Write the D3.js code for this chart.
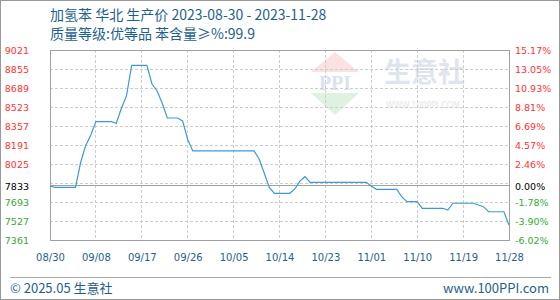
<!DOCTYPE html>
<html>
<head>
<meta charset="utf-8">
<script src="https://cdn.jsdelivr.net/npm/d3@7"></script>
<style>
body { margin: 0; background: #fff; }
svg { display: block; }
</style>
</head>
<body>
<script>
// Chart data
const titleLine1 = '加氢苯 华北 生产价 2023-08-30 - 2023-11-28';
const titleLine2 = '质量等级:优等品 苯含量≥%:99.9';
const startDate = new Date(2023, 7, 30);
const basePrice = 7833;

// daily price, 08/30 .. 11/28
const prices = [
    7833, 7821, 7821, 7821, 7821, 7821, 8038, 8187, 8278, 8395,
    8395, 8395, 8395, 8381, 8512, 8620, 8887, 8887, 8887, 8887,
    8724, 8663, 8558, 8427, 8427, 8427, 8401, 8239, 8139, 8139,
    8139, 8139, 8139, 8139, 8139, 8139, 8139, 8139, 8139, 8139,
    8139, 8069, 7946, 7820, 7769, 7769, 7769, 7769, 7807, 7876,
    7914, 7865, 7865, 7865, 7865, 7865, 7865, 7865, 7865, 7865,
    7865, 7865, 7865, 7833, 7804, 7804, 7804, 7804, 7804, 7737,
    7696, 7696, 7696, 7638, 7638, 7638, 7638, 7638, 7623, 7682,
    7682, 7682, 7682, 7682, 7667, 7652, 7608, 7608, 7608, 7608,
    7492
];

const xTickLabels = ['08/30', '09/08', '09/17', '09/26', '10/05', '10/14', '10/23', '11/01', '11/10', '11/19', '11/28'];
const gridValues = [9021, 8855, 8689, 8523, 8357, 8191, 8025, 7859, 7693, 7527, 7361];
const leftTickValues = [9021, 8855, 8689, 8523, 8357, 8191, 8025, 7833, 7693, 7527, 7361];
const rightTickLabels = ['15.17%', '13.05%', '10.93%', '8.81%', '6.69%', '4.57%', '2.46%', '0.00%', '-1.78%', '-3.90%', '-6.02%'];

const width = 560, height = 300;
const plot = { left: 50, right: 509, top: 50, bottom: 240 };

const labelColor = '#1d5f8f';
const upColor = '#ff3333';
const downColor = '#33aa33';

let svg = d3.select('body').append('svg')
    .attr('width', width)
    .attr('height', height);

// outer frame
svg.append('rect')
    .attr('x', 0.5).attr('y', 0.5)
    .attr('width', width - 1).attr('height', height - 1)
    .attr('fill', '#fff')
    .attr('stroke', '#999');

// scales
let dates = prices.map((p, i) => d3.timeDay.offset(startDate, i));
let x = d3.scaleTime()
    .domain([startDate, dates[dates.length - 1]])
    .range([plot.left, plot.right]);
let y = d3.scaleLinear()
    .domain([7361, 9021])
    .range([plot.bottom, plot.top]);
let xLabel = d3.scalePoint()
    .domain(xTickLabels)
    .range([plot.left, plot.right]);

// title
svg.append('text')
    .attr('x', 50).attr('y', 19.5)
    .attr('fill', labelColor)
    .style('font-family', '"Noto Sans CJK SC", sans-serif')
    .style('font-size', '14px')
    .text(titleLine1);
svg.append('text')
    .attr('x', 50).attr('y', 38.5)
    .attr('fill', labelColor)
    .style('font-family', '"Noto Sans CJK SC", sans-serif')
    .style('font-size', '14px')
    .text(titleLine2);

// watermark
let wm = svg.append('g').attr('class', 'watermark');
wm.append('path')
    .attr('d', 'M335,52 L359,72 L311,72 Z')
    .attr('fill', '#fbe1e1');
wm.append('path')
    .attr('d', 'M311,93 L359,93 L335,115 Z')
    .attr('fill', '#dff1df');
wm.append('text')
    .attr('x', 335).attr('y', 90)
    .attr('text-anchor', 'middle')
    .attr('fill', '#dbe3ef')
    .style('font-family', '"Liberation Serif", serif')
    .style('font-size', '20px')
    .style('font-weight', 'bold')
    .text('PPI');
wm.append('text')
    .attr('x', 384).attr('y', 82)
    .attr('fill', '#dfe5ef')
    .style('font-family', '"Noto Sans CJK SC", sans-serif')
    .style('font-size', '27px')
    .style('font-weight', 'bold')
    .text('生意社');
wm.append('text')
    .attr('x', 386).attr('y', 108)
    .attr('fill', '#e6e6e6')
    .style('font-family', '"DejaVu Sans", sans-serif')
    .style('font-size', '8px')
    .text('WWW.100PPI.COM');

// grid
let grid = svg.append('g').attr('shape-rendering', 'crispEdges');
grid.selectAll('line.h')
    .data(gridValues)
    .enter().append('line')
    .attr('class', 'h')
    .attr('x1', plot.left).attr('x2', plot.right)
    .attr('y1', d => y(d)).attr('y2', d => y(d))
    .attr('stroke', '#cccccc')
    .attr('stroke-dasharray', '3,2');
grid.selectAll('line.v')
    .data(xTickLabels)
    .enter().append('line')
    .attr('class', 'v')
    .attr('x1', d => xLabel(d)).attr('x2', d => xLabel(d))
    .attr('y1', plot.top).attr('y2', plot.bottom)
    .attr('stroke', '#cccccc')
    .attr('stroke-dasharray', '3,2');

// base line
grid.append('line')
    .attr('x1', plot.left).attr('x2', plot.right)
    .attr('y1', y(basePrice)).attr('y2', y(basePrice))
    .attr('stroke', '#a0a0a0');

// plot frame
grid.append('rect')
    .attr('x', plot.left).attr('y', plot.top)
    .attr('width', plot.right - plot.left)
    .attr('height', plot.bottom - plot.top)
    .attr('fill', 'none')
    .attr('stroke', '#a0a0a0');

// price line
let line = d3.line()
    .x((d, i) => x(dates[i]))
    .y(d => y(d));
svg.append('path')
    .datum(prices)
    .attr('d', line)
    .attr('fill', 'none')
    .attr('stroke', '#3a9ad9')
    .attr('stroke-width', 1.2);

// tick colors
const tickColor = (v) => v > basePrice ? upColor : (v < basePrice ? downColor : '#000');

// left axis
let yAxisLeft = svg.append('g')
    .attr('transform', `translate(29, 0)`)
    .call(d3.axisLeft(y).tickValues(leftTickValues).tickSize(0).tickPadding(0).tickFormat(d3.format('d')));
yAxisLeft.select('.domain').remove();
yAxisLeft.selectAll('text')
    .attr('fill', d => tickColor(d))
    .style('font-family', '"DejaVu Sans", sans-serif')
    .style('font-size', '9.5px');

// right axis
let yAxisRight = svg.append('g')
    .attr('transform', `translate(515, 0)`)
    .call(d3.axisRight(y).tickValues(leftTickValues).tickSize(0).tickPadding(0)
        .tickFormat((d, i) => rightTickLabels[i]));
yAxisRight.select('.domain').remove();
yAxisRight.selectAll('text')
    .attr('fill', d => tickColor(d))
    .style('font-family', '"DejaVu Sans", sans-serif')
    .style('font-size', '9.5px');

// x axis
let xAxis = svg.append('g')
    .attr('transform', `translate(0, 254)`)
    .call(d3.axisBottom(xLabel).tickSize(0).tickPadding(0));
xAxis.select('.domain').remove();
xAxis.selectAll('text')
    .attr('fill', labelColor)
    .style('font-family', '"DejaVu Sans", sans-serif')
    .style('font-size', '10px');

// footer
svg.append('line')
    .attr('x1', 10).attr('x2', 551)
    .attr('y1', 277.5).attr('y2', 277.5)
    .attr('stroke', '#aaa');
svg.append('text')
    .attr('x', 10).attr('y', 293)
    .attr('fill', labelColor)
    .style('font-family', '"Noto Sans CJK SC", sans-serif')
    .style('font-size', '13px')
    .text('© 2025.05 生意社');
svg.append('text')
    .attr('x', 549).attr('y', 293)
    .attr('text-anchor', 'end')
    .attr('fill', labelColor)
    .style('font-family', '"Noto Sans CJK SC", sans-serif')
    .style('font-size', '13px')
    .text('www.100PPI.com');
</script>
</body>
</html>
